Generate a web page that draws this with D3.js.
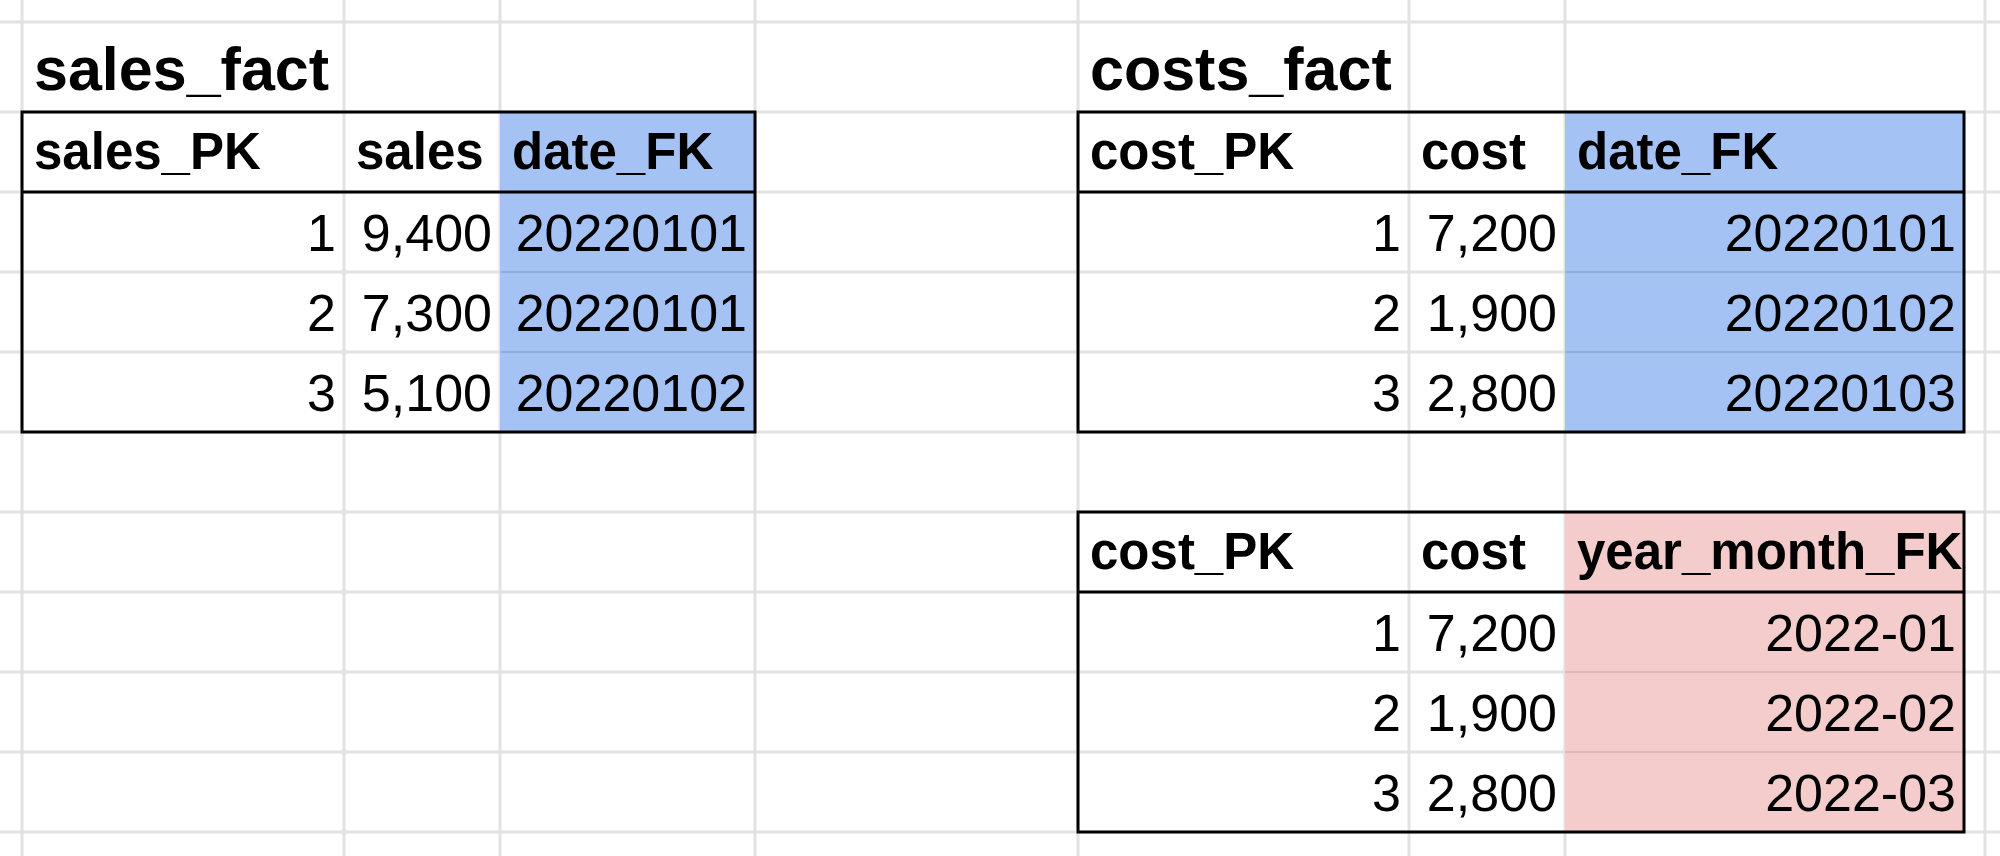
<!DOCTYPE html>
<html>
<head>
<meta charset="utf-8">
<script src="https://cdn.jsdelivr.net/npm/d3@7"></script>
<style>
  body { margin: 0; background: #fff; }
  text { font-family: "Liberation Sans", Arial, sans-serif; fill: #000; }
</style>
</head>
<body>
<svg id="sheet" width="2000" height="856"></svg>
<script>
// table contents
const salesHeaders = ["sales_PK", "sales", "date_FK"];
const salesPK = [1, 2, 3];
const salesValues = [9400, 7300, 5100];
const salesDateFK = ["20220101", "20220101", "20220102"];

const costHeaders = ["cost_PK", "cost", "date_FK"];
const costPK = [1, 2, 3];
const costValues = [7200, 1900, 2800];
const costDateFK = ["20220101", "20220102", "20220103"];

const costMonthHeaders = ["cost_PK", "cost", "year_month_FK"];
const costMonthFK = ["2022-01", "2022-02", "2022-03"];

// sheet grid
const W = 2000, H = 856;
const gridX = [22, 344, 500, 755, 1078, 1409, 1565, 1985];
const gridY = [22, 112, 192, 272, 352, 432, 512, 592, 672, 752, 832];

const svg = d3.select("#sheet");
const fmt = d3.format(",");

// row index -> y (row 0 is the title row, taller than the rest)
const rowY = d3.scaleLinear().domain([1, 10]).range([112, 832]);

svg.append("g").selectAll("line.v").data(gridX).enter().append("line")
  .attr("x1", d => d).attr("x2", d => d).attr("y1", 0).attr("y2", H)
  .attr("stroke", "#e2e2e2").attr("stroke-width", 3);
svg.append("g").selectAll("line.h").data(gridY).enter().append("line")
  .attr("x1", 0).attr("x2", W).attr("y1", d => d).attr("y2", d => d)
  .attr("stroke", "#e2e2e2").attr("stroke-width", 3);

function drawTable(opts) {
  const cols = opts.cols; // 4 x edges
  const g = svg.append("g");
  const top = rowY(opts.row), bottom = rowY(opts.row + 4);
  // highlighted key column
  g.append("rect")
    .attr("x", cols[2]).attr("y", top)
    .attr("width", cols[3] - cols[2]).attr("height", bottom - top)
    .attr("fill", opts.fill);
  // faint row dividers inside the fill
  g.selectAll("line.r").data([2, 3]).enter().append("line")
    .attr("x1", cols[2]).attr("x2", cols[3])
    .attr("y1", d => rowY(opts.row + d)).attr("y2", d => rowY(opts.row + d))
    .attr("stroke", opts.fillLine).attr("stroke-width", 2);
  if (opts.title) {
    g.append("text").attr("x", cols[0] + 12).attr("y", rowY(opts.row) - 22)
      .attr("font-size", 61).attr("font-weight", "bold").text(opts.title);
  }
  // headers
  g.selectAll("text.h").data(opts.headers).enter().append("text")
    .attr("x", (d, i) => cols[i] + 12)
    .attr("y", top + 57)
    .attr("font-size", 51).attr("font-weight", "bold")
    .text(d => d);
  // body
  const rows = opts.pk.map((p, i) => [String(p), fmt(opts.values[i]), opts.fk[i]]);
  rows.forEach((r, ri) => {
    g.selectAll(null).data(r).enter().append("text")
      .attr("x", (d, i) => cols[i + 1] - 8)
      .attr("y", rowY(opts.row + 1 + ri) + 59)
      .attr("text-anchor", "end")
      .attr("font-size", 52)
      .text(d => d);
  });
  // borders
  g.append("rect").attr("x", cols[0]).attr("y", top)
    .attr("width", cols[3] - cols[0]).attr("height", bottom - top)
    .attr("fill", "none").attr("stroke", "#000").attr("stroke-width", 3);
  g.append("line").attr("x1", cols[0]).attr("x2", cols[3])
    .attr("y1", rowY(opts.row + 1)).attr("y2", rowY(opts.row + 1))
    .attr("stroke", "#000").attr("stroke-width", 3);
}

drawTable({ cols: [22, 344, 500, 755], row: 1, title: "sales_fact",
  headers: salesHeaders, pk: salesPK, values: salesValues, fk: salesDateFK,
  fill: "#a4c2f4", fillLine: "#93afdc" });
drawTable({ cols: [1078, 1409, 1565, 1964], row: 1, title: "costs_fact",
  headers: costHeaders, pk: costPK, values: costValues, fk: costDateFK,
  fill: "#a4c2f4", fillLine: "#93afdc" });
drawTable({ cols: [1078, 1409, 1565, 1964], row: 6, title: null,
  headers: costMonthHeaders, pk: costPK, values: costValues, fk: costMonthFK,
  fill: "#f4cccc", fillLine: "#dbb7b7" });
</script>
</body>
</html>
